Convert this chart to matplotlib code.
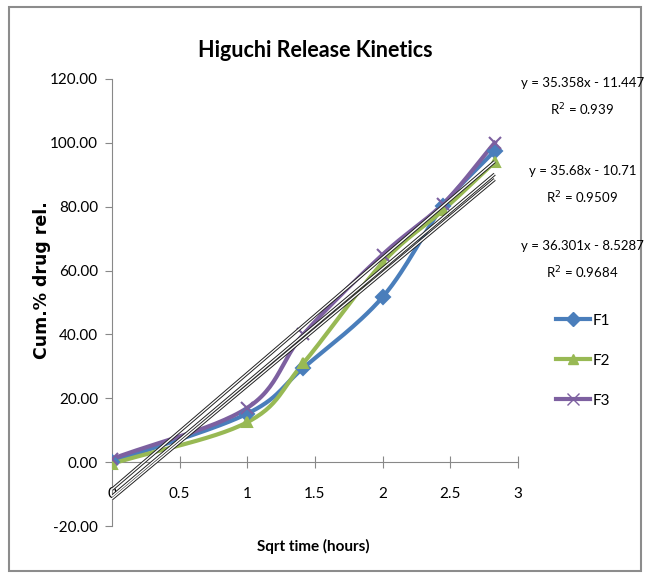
import numpy as np
import matplotlib
matplotlib.use("Agg")
import matplotlib.pyplot as plt
from matplotlib.patches import Rectangle

plt.rcParams['font.family'] = ['Lato', 'DejaVu Sans']

# sqrt of sampling time (0, 1, 2, 4, 6, 8 h)
x = [0, 1, 1.414, 2, 2.449, 2.828]
f1 = [0, 15.2, 29.5, 51.7, 80.3, 97.5]
f2 = [-0.5, 12.5, 31.0, 62.5, 79.0, 94.0]
f3 = [1.0, 17.0, 40.0, 65.0, 81.0, 100.0]

# Excel linear trendlines (slope, intercept, R^2)
trend_slope = [35.358, 35.68, 36.301]
trend_icpt = [-11.447, -10.71, -8.5287]
trend_r2 = ["0.939", "0.9509", "0.9684"]

names = ["F1", "F2", "F3"]
colors = ["#4A7EBB", "#98B954", "#7D60A0"]
markers = ["D", "^", "x"]


def smooth(xs, ys, n=30):
    # Catmull-Rom style curve like Excel's smoothed line
    xs = np.asarray(xs, float)
    ys = np.asarray(ys, float)
    px = np.concatenate([[2 * xs[0] - xs[1]], xs, [2 * xs[-1] - xs[-2]]])
    py = np.concatenate([[2 * ys[0] - ys[1]], ys, [2 * ys[-1] - ys[-2]]])
    ox, oy = [], []
    for i in range(1, len(px) - 2):
        t = np.linspace(0, 1, n)
        for p, o in ((px, ox), (py, oy)):
            p0, p1, p2, p3 = p[i - 1], p[i], p[i + 1], p[i + 2]
            c1 = p1 + (p2 - p0) / 6
            c2 = p2 - (p3 - p1) / 6
            o.extend((1 - t) ** 3 * p1 + 3 * (1 - t) ** 2 * t * c1
                     + 3 * (1 - t) * t ** 2 * c2 + t ** 3 * p2)
    return ox, oy


fig = plt.figure(figsize=(6.45, 5.74), dpi=100)
fig.patches.append(Rectangle((0.014, 0.006), 0.98, 0.982, transform=fig.transFigure,
                             fill=False, edgecolor="#8c8c8c", linewidth=1.5))
ax = fig.add_axes([0.1736, 0.0836, 0.6294, 0.7788])

for k, ys in enumerate([f1, f2, f3]):
    sx, sy = smooth(x, ys)
    ax.plot(sx, sy, color=colors[k], linewidth=3, zorder=3)
    ms = 9 if markers[k] == "x" else 7
    ax.plot(x, ys, linestyle="none", marker=markers[k], color=colors[k],
            markersize=ms, markeredgewidth=1.5, zorder=4)
    ax.plot([], [], color=colors[k], linewidth=3, marker=markers[k],
            markersize=ms, label=names[k])

tx = np.array([0, x[-1]])
for k in range(3):
    ty = trend_slope[k] * tx + trend_icpt[k]
    ax.plot(tx, ty, color="#222222", linewidth=2.4, zorder=5, solid_capstyle="butt")
    ax.plot(tx, ty, color="white", linewidth=1.0, zorder=6, solid_capstyle="butt")

ax.set_xlim(0, 3)
ax.set_ylim(-20, 120)
ax.set_yticks(np.arange(-20, 121, 20))
ax.set_yticklabels([f"{v:.2f}" for v in np.arange(-20, 121, 20)])
ax.set_xticks([0, 0.5, 1, 1.5, 2, 2.5, 3])
ax.set_xticklabels(["0", "0.5", "1", "1.5", "2", "2.5", "3"])

for s in ["top", "right"]:
    ax.spines[s].set_visible(False)
ax.spines["bottom"].set_position(("data", 0))
ax.spines["bottom"].set_color("#888888")
ax.spines["left"].set_color("#888888")
ax.tick_params(axis="y", direction="out", length=5, color="#888888",
               labelsize=11, pad=5)
ax.tick_params(axis="x", direction="inout", length=8, color="#888888",
               labelsize=11, pad=14)

ax.set_title("Higuchi Release Kinetics", fontsize=15.5, fontweight="bold", pad=16)
ax.set_xlabel("Sqrt time (hours)", fontsize=11, fontweight="bold")
ax.xaxis.set_label_coords(0.495, -0.03)
ax.set_ylabel("Cum.% drug rel.", fontsize=12.5, fontweight="bold",
              family=["DejaVu Sans"])
ax.yaxis.set_label_coords(-0.15, 0.55)

eq_y = [0.855, 0.702, 0.571]
for k in range(3):
    sign = "-" if trend_icpt[k] < 0 else "+"
    fig.text(0.903, eq_y[k], f"y = {trend_slope[k]}x {sign} {abs(trend_icpt[k])}",
             ha="center", va="center", fontsize=9.5)
    fig.text(0.903, eq_y[k] - 0.046, f"R$^2$ = {trend_r2[k]}",
             ha="center", va="center", fontsize=9.5)

ax.legend(loc="center left", bbox_to_anchor=(1.06, 0.37), frameon=False,
          fontsize=11, handlelength=2.2, labelspacing=1.7, handletextpad=0.2)

fig.savefig("out.png", dpi=100)
